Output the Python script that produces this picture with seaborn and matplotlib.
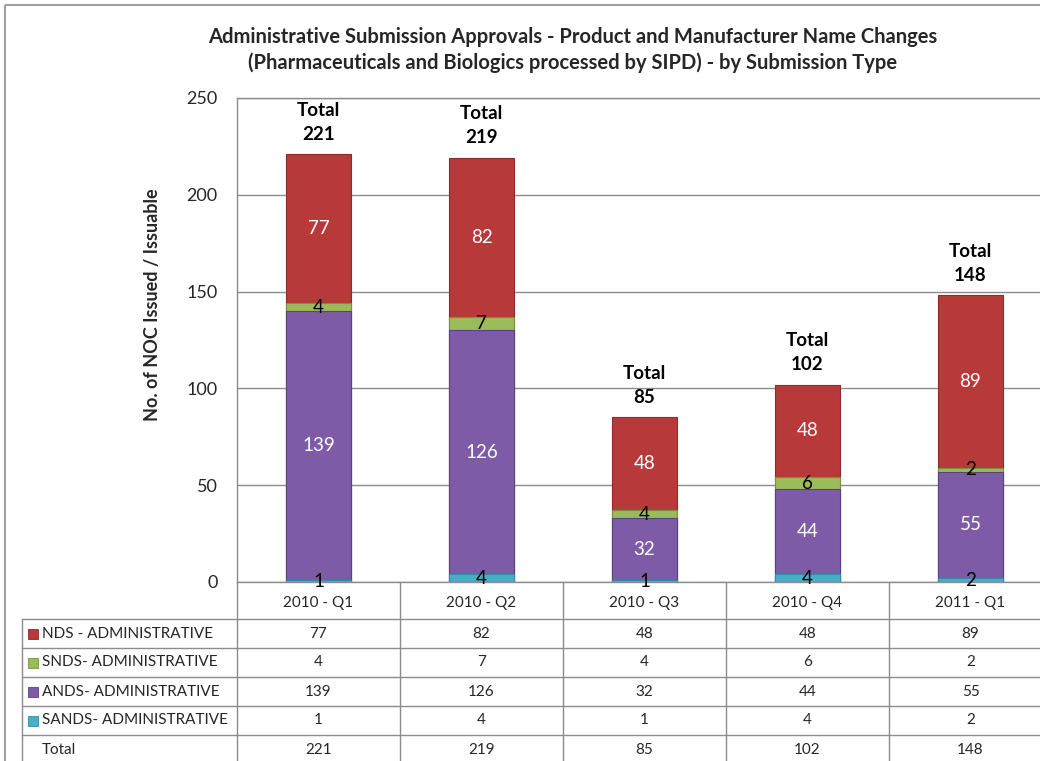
import numpy as np
import matplotlib
matplotlib.use("Agg")
import matplotlib.pyplot as plt
import matplotlib.transforms as mtransforms
from matplotlib.lines import Line2D
from matplotlib.patches import Rectangle
import seaborn as sns

# ---------------------------------------------------------
# Data
# ---------------------------------------------------------
quarters = ["2010 - Q1", "2010 - Q2", "2010 - Q3", "2010 - Q4", "2011 - Q1"]
nds = [77, 82, 48, 48, 89]
snds = [4, 7, 4, 6, 2]
ands = [139, 126, 32, 44, 55]
sands = [1, 4, 1, 4, 2]
totals = [221, 219, 85, 102, 148]

series_names = ["NDS - ADMINISTRATIVE", "SNDS- ADMINISTRATIVE",
                "ANDS- ADMINISTRATIVE", "SANDS- ADMINISTRATIVE"]
series_values = [nds, snds, ands, sands]
series_colors = ["#B8393A", "#9BBB59", "#7D5BA6", "#4BACC6"]
edge_colors = ["#8E2A2A", "#76913F", "#5C4180", "#2F8FA8"]

title = ("Administrative Submission Approvals - Product and Manufacturer Name Changes\n"
         "(Pharmaceuticals and Biologics processed by SIPD) - by Submission Type")

# ---------------------------------------------------------
# Style
# ---------------------------------------------------------
sns.set_theme(style="white")
plt.rcParams["font.family"] = ["Lato", "DejaVu Sans"]

W, H = 1040, 761
fig = plt.figure(figsize=(W / 100, H / 100), dpi=100)

# plot area in pixels: left 237, top 98, bottom 582, column width 163
left_px, top_px, bot_px, col_w = 237, 98, 582, 163
ax = fig.add_axes([left_px / W, 1 - bot_px / H,
                   len(quarters) * col_w / W, (bot_px - top_px) / H], zorder=1)

# ---------------------------------------------------------
# Stacked bars: draw cumulative heights from top layer down
# ---------------------------------------------------------
stack = [sands, ands, snds, nds]                  # bottom -> top
stack_colors = series_colors[::-1]
stack_edges = edge_colors[::-1]
cum = np.cumsum(np.array(stack), axis=0)

for i in reversed(range(len(stack))):
    sns.barplot(x=quarters, y=cum[i], color=stack_colors[i], saturation=1,
                width=0.4, edgecolor=stack_edges[i], linewidth=0.8, ax=ax)

# segment labels
for i, layer in enumerate(stack):
    for j, v in enumerate(layer):
        yc = cum[i][j] - v / 2
        ax.text(j, yc, str(v), ha="center", va="center", fontsize=13.5,
                color="white" if v > 10 else "black", zorder=5)

# total labels above bars
for j, t in enumerate(totals):
    ax.text(j, t + 6, f"Total\n{t}", ha="center", va="bottom", fontsize=13.5,
            fontweight="bold", color="black", linespacing=1.5, zorder=5)

ax.set_ylim(0, 250)
ax.set_xlim(-0.5, len(quarters) - 0.5)
ax.set_yticks(range(0, 251, 50))
ax.yaxis.grid(True, color="#8C8C8C", linewidth=1)
ax.set_axisbelow(True)
for s in ax.spines.values():
    s.set_color("#8C8C8C")
    s.set_linewidth(1)
ax.tick_params(axis="y", length=0, pad=14, labelsize=13)
ax.tick_params(axis="x", length=0, pad=10, labelsize=11)
ax.set_xlabel("")
ax.set_ylabel("No. of NOC Issued / Issuable", fontsize=13, fontweight="bold")
ax.yaxis.set_label_coords(-0.093, 0.572)

fig.text(0.551, 0.934, title, ha="center", va="center", fontsize=14.5,
         fontweight="bold", linespacing=1.3)

# ---------------------------------------------------------
# Data table below the chart (x follows the bar axis, y in pixels)
# ---------------------------------------------------------
over = fig.add_axes([0, 0, 1, 1], zorder=2)
over.set_xlim(0, W)
over.set_ylim(H, 0)
over.axis("off")
tr = mtransforms.blended_transform_factory(ax.transData, over.transData)

grid_c = "#8C8C8C"
row_lines = [619, 648, 677, 706, 735]
label_left = 22

# outer chart frame
over.add_patch(Rectangle((5, 5), W + 20, H + 20, fill=False,
                         edgecolor="#A0A0A0", linewidth=1.5))

# horizontal row lines
for y in row_lines:
    over.add_line(Line2D([label_left, W], [y, y], color=grid_c, linewidth=1))
# vertical lines
over.add_line(Line2D([label_left, label_left], [row_lines[0], H],
                     color=grid_c, linewidth=1))
for j in range(len(quarters) + 1):
    over.add_line(Line2D([j - 0.5, j - 0.5], [bot_px, H], transform=tr,
                         color=grid_c, linewidth=1))

row_labels = series_names + ["Total"]
row_values = series_values + [totals]
for r, (name, vals) in enumerate(zip(row_labels, row_values)):
    yc = row_lines[r] + 14.5
    if r < len(series_names):
        over.add_patch(Rectangle((28, yc - 5), 10, 10,
                                 facecolor=series_colors[r],
                                 edgecolor=edge_colors[r], linewidth=0.6))
    over.text(42, yc, name, ha="left", va="center", fontsize=11)
    for j, v in enumerate(vals):
        over.text(j, yc, str(v), transform=tr, ha="center", va="center",
                  fontsize=11)

fig.savefig("out.png", dpi=100)
